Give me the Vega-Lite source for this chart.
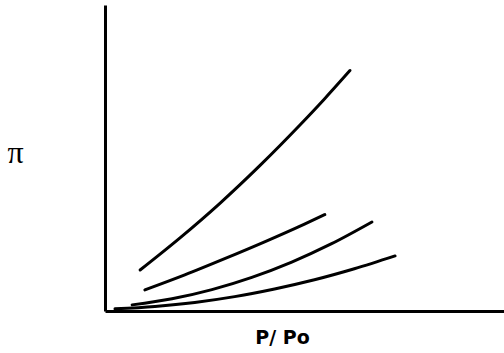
{
  "$schema": "https://vega.github.io/schema/vega-lite/v6.json",
  "width": 399,
  "height": 306,
  "autosize": "none",
  "padding": {"left": 105, "top": 5, "right": 0, "bottom": 42},
  "background": "white",
  "config": {"view": {"stroke": null}},
  "data": {"values": [
    {"curve": "a", "x": 0.088, "y": 0.134},
    {"curve": "a", "x": 0.188, "y": 0.239},
    {"curve": "a", "x": 0.288, "y": 0.352},
    {"curve": "a", "x": 0.388, "y": 0.475},
    {"curve": "a", "x": 0.488, "y": 0.607},
    {"curve": "a", "x": 0.550, "y": 0.693},
    {"curve": "a", "x": 0.614, "y": 0.786},
    {"curve": "b", "x": 0.100, "y": 0.069},
    {"curve": "b", "x": 0.200, "y": 0.118},
    {"curve": "b", "x": 0.300, "y": 0.171},
    {"curve": "b", "x": 0.400, "y": 0.226},
    {"curve": "b", "x": 0.500, "y": 0.284},
    {"curve": "b", "x": 0.551, "y": 0.315},
    {"curve": "c", "x": 0.068, "y": 0.020},
    {"curve": "c", "x": 0.168, "y": 0.040},
    {"curve": "c", "x": 0.268, "y": 0.070},
    {"curve": "c", "x": 0.368, "y": 0.110},
    {"curve": "c", "x": 0.468, "y": 0.160},
    {"curve": "c", "x": 0.568, "y": 0.220},
    {"curve": "c", "x": 0.669, "y": 0.291},
    {"curve": "d", "x": 0.025, "y": 0.007},
    {"curve": "d", "x": 0.125, "y": 0.015},
    {"curve": "d", "x": 0.225, "y": 0.028},
    {"curve": "d", "x": 0.325, "y": 0.047},
    {"curve": "d", "x": 0.425, "y": 0.072},
    {"curve": "d", "x": 0.525, "y": 0.102},
    {"curve": "d", "x": 0.625, "y": 0.138},
    {"curve": "d", "x": 0.727, "y": 0.180}
  ]},
  "mark": {"type": "line", "color": "black", "strokeWidth": 3, "interpolate": "monotone", "strokeCap": "round"},
  "encoding": {
    "x": {"field": "x", "type": "quantitative", "scale": {"domain": [0, 1], "nice": false, "zero": false},
      "axis": {"title": "P/ Po", "ticks": false, "labels": false, "grid": false, "domainColor": "black", "domainWidth": 3,
        "titleFont": "DejaVu Sans", "titleFontSize": 19, "titleFontWeight": "bold", "titleColor": "black",
        "titleX": 177, "titleY": 26, "titleBaseline": "middle", "titleAlign": "center"}},
    "y": {"field": "y", "type": "quantitative", "scale": {"domain": [0, 1], "nice": false, "zero": false},
      "axis": {"title": "π", "ticks": false, "labels": false, "grid": false, "domainColor": "black", "domainWidth": 3,
        "titleFont": "Liberation Serif", "titleFontSize": 32, "titleFontWeight": "normal", "titleColor": "black", "titleAngle": 0,
        "titleX": -90, "titleY": 147, "titleBaseline": "middle", "titleAlign": "center"}},
    "detail": {"field": "curve", "type": "nominal"}
  }
}
